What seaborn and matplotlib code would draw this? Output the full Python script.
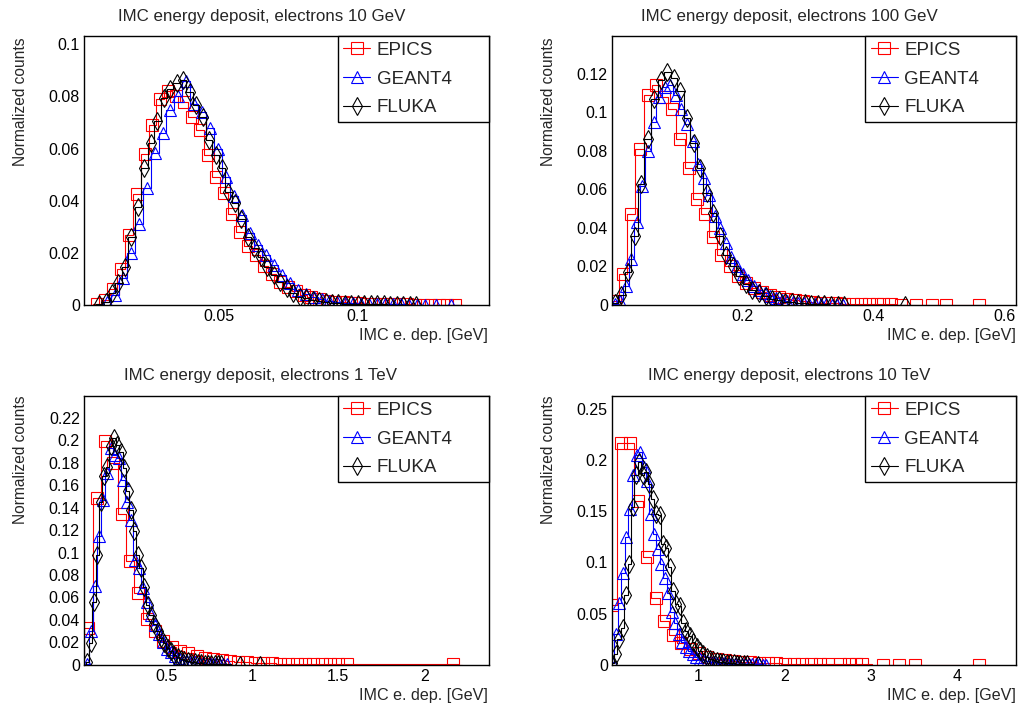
import numpy as np
import pandas as pd
import matplotlib
matplotlib.use("Agg")
import matplotlib.pyplot as plt
from matplotlib.lines import Line2D
from matplotlib.ticker import MultipleLocator, FuncFormatter
import seaborn as sns

# ---------------------------------------------------------------- data
models = ["EPICS", "GEANT4", "FLUKA"]
titles = ["IMC energy deposit, electrons 10 GeV",
          "IMC energy deposit, electrons 100 GeV",
          "IMC energy deposit, electrons 1 TeV",
          "IMC energy deposit, electrons 10 TeV"]
x_title = "IMC e. dep. [GeV]"
y_title = "Normalized counts"

# Panel 1 : 10 GeV   (bin start, bin width, contents, sparse tail bins)
p1_epics_bins = (0.0064, 0.00285)
p1_epics = [0.0003, 0.002, 0.006, 0.014, 0.027, 0.0425, 0.058, 0.069, 0.079, 0.082,
            0.080, 0.078, 0.072, 0.067, 0.0575, 0.049, 0.043, 0.035, 0.028, 0.0225,
            0.019, 0.015, 0.012, 0.009, 0.007, 0.0055, 0.004, 0.003, 0.0022, 0.0017,
            0.0013, 0.001, 0.0008, 0.0006, 0.0005, 0.0004, 0.0003, 0.0003, 0.0002, 0.0002,
            0.0001, 0.0001, 0.0001, 0.0001, 0.0001, 0.0001]
p1_epics_tail_x, p1_epics_tail_y = [], []
p1_geant_bins = (0.0100, 0.00285)
p1_geant = [0.001, 0.004, 0.0105, 0.020, 0.031, 0.045, 0.0585, 0.066, 0.075, 0.080,
            0.086, 0.077, 0.074, 0.068, 0.060, 0.049, 0.042, 0.0345, 0.0275, 0.023,
            0.019, 0.0153, 0.0115, 0.0083, 0.0058, 0.0042, 0.003, 0.0022, 0.0016, 0.0012,
            0.0009, 0.0007, 0.0005, 0.0004, 0.0003, 0.0003, 0.0002, 0.0002, 0.0001, 0.0001,
            0.0001]
p1_geant_tail_x, p1_geant_tail_y = [0.128, 0.1335], [0.0001, 0.0001]
p1_fluka_bins = (0.0072, 0.00232)
p1_fluka = [0.0003, 0.0013, 0.0046, 0.0084, 0.0147, 0.0262, 0.0377, 0.0524, 0.0623, 0.0707,
            0.0793, 0.0827, 0.085, 0.0863, 0.0818, 0.0767, 0.0722, 0.0633, 0.0575, 0.0524,
            0.0435, 0.039, 0.0329, 0.0262, 0.0217, 0.0185, 0.0147, 0.0115, 0.0089, 0.0064,
            0.0045, 0.0032, 0.0025, 0.0018, 0.0014, 0.001, 0.0008, 0.0006, 0.0005, 0.0004,
            0.0003, 0.0003, 0.0002, 0.0002, 0.0002, 0.0001, 0.0001, 0.0001, 0.0001, 0.0001]
p1_fluka_tail_x, p1_fluka_tail_y = [], []

# Panel 2 : 100 GeV
p2_epics_bins = (0.0055, 0.0125)
p2_epics = [0.002, 0.016, 0.047, 0.081, 0.109, 0.114, 0.108, 0.102, 0.086, 0.071,
            0.055, 0.047, 0.0355, 0.026, 0.020, 0.015, 0.0113, 0.0087, 0.007, 0.0052,
            0.004, 0.003, 0.0025, 0.002, 0.0015, 0.0012, 0.001, 0.0008, 0.0006]
p2_epics_tail_x = [0.369, 0.382, 0.394, 0.405, 0.415, 0.427, 0.443, 0.466, 0.489, 0.511, 0.562]
p2_epics_tail_y = [0.0005, 0.0004, 0.0004, 0.0003, 0.0003, 0.0003, 0.0002, 0.0002, 0.0002,
                   0.0001, 0.0001]
p2_geant_bins = (0.005, 0.0085)
p2_geant = [0.0005, 0.002, 0.010, 0.024, 0.043, 0.062, 0.080, 0.095, 0.108, 0.113,
            0.114, 0.109, 0.102, 0.094, 0.085, 0.073, 0.066, 0.057, 0.046, 0.040,
            0.032, 0.025, 0.020, 0.016, 0.013, 0.010, 0.008, 0.006, 0.0045, 0.0035,
            0.0027, 0.002, 0.0015, 0.0012, 0.0009, 0.0007, 0.0005, 0.0004, 0.0003, 0.0002,
            0.0002, 0.0001]
p2_geant_tail_x, p2_geant_tail_y = [], []
p2_fluka_bins = (0.0055, 0.010)
p2_fluka = [0.001, 0.005, 0.017, 0.036, 0.063, 0.086, 0.107, 0.117, 0.121, 0.118,
            0.111, 0.097, 0.084, 0.071, 0.058, 0.048, 0.036, 0.026, 0.020, 0.015,
            0.011, 0.008, 0.006, 0.0045, 0.0033, 0.0025, 0.0018, 0.0013, 0.001, 0.0008,
            0.0006, 0.0004, 0.0003, 0.0002, 0.0002, 0.0001]
p2_fluka_tail_x, p2_fluka_tail_y = [0.448], [0.0001]

# Panel 3 : 1 TeV
p3_epics_bins = (0.045, 0.0485)
p3_epics = [0.033, 0.149, 0.199, 0.180, 0.134, 0.092, 0.064, 0.041, 0.030, 0.021,
            0.016, 0.012, 0.010, 0.008, 0.006, 0.005, 0.004, 0.003, 0.0025, 0.002,
            0.0017, 0.0014, 0.0012, 0.001, 0.0008, 0.0007, 0.0006, 0.0005, 0.0004, 0.0003,
            0.0003, 0.0002]
p3_epics_tail_x, p3_epics_tail_y = [2.17], [0.0002]
p3_geant_bins = (0.038, 0.0232)
p3_geant = [0.001, 0.030, 0.070, 0.115, 0.147, 0.171, 0.193, 0.187, 0.184, 0.165,
            0.145, 0.129, 0.093, 0.086, 0.068, 0.056, 0.044, 0.035, 0.0275, 0.020,
            0.014, 0.011, 0.008, 0.006, 0.0045, 0.0035, 0.0027, 0.002, 0.0015, 0.0012,
            0.0009, 0.0007, 0.0005, 0.0004, 0.0003, 0.0002]
p3_geant_tail_x, p3_geant_tail_y = [], []
p3_fluka_bins = (0.0385, 0.0195)
p3_fluka = [0.002, 0.019, 0.056, 0.098, 0.145, 0.168, 0.176, 0.195, 0.202, 0.196,
            0.190, 0.175, 0.155, 0.138, 0.119, 0.098, 0.086, 0.069, 0.053, 0.044,
            0.036, 0.030, 0.024, 0.019, 0.015, 0.012, 0.009, 0.007, 0.0055, 0.0042,
            0.0033, 0.0026, 0.002, 0.0016, 0.0012, 0.001, 0.0008, 0.0006, 0.0005, 0.0004,
            0.0003]
p3_fluka_tail_x, p3_fluka_tail_y = [0.927, 1.044], [0.0001, 0.0001]

# Panel 4 : 10 TeV
p4_epics_bins = (0.01, 0.1)
p4_epics = [0.058, 0.217, 0.217, 0.160, 0.105, 0.065, 0.043, 0.029, 0.021, 0.015,
            0.011, 0.008, 0.006, 0.0045, 0.0035, 0.0028, 0.0022, 0.0018, 0.0015, 0.0012,
            0.001, 0.0008, 0.0006, 0.0005, 0.0004, 0.0003]
p4_epics_tail_x = [2.65, 2.75, 2.83, 2.9, 3.14, 3.33, 3.52, 4.26]
p4_epics_tail_y = [0.0002, 0.0002, 0.0002, 0.0002, 0.0001, 0.0001, 0.0001, 0.0001]
p4_geant_bins = (0.01, 0.0405)
p4_geant = [0.003, 0.030, 0.060, 0.090, 0.125, 0.152, 0.185, 0.205, 0.208, 0.193,
            0.180, 0.147, 0.128, 0.113, 0.098, 0.085, 0.070, 0.052, 0.041, 0.030,
            0.022, 0.017, 0.013, 0.010, 0.008, 0.006, 0.0047, 0.0037, 0.003, 0.0024,
            0.0019, 0.0015, 0.0012, 0.001, 0.0008, 0.0007, 0.0006, 0.0005, 0.0004, 0.0003,
            0.0003, 0.0002, 0.0002, 0.0001, 0.0001]
p4_geant_tail_x, p4_geant_tail_y = [], []
p4_fluka_bins = (0.01, 0.039)
p4_fluka = [0.002, 0.010, 0.025, 0.036, 0.068, 0.098, 0.154, 0.185, 0.198, 0.185,
            0.188, 0.177, 0.162, 0.147, 0.146, 0.118, 0.114, 0.096, 0.072, 0.059,
            0.057, 0.041, 0.033, 0.028, 0.022, 0.017, 0.013, 0.010, 0.008, 0.006,
            0.0048, 0.0038, 0.003, 0.0024, 0.0019, 0.0015, 0.0012, 0.001, 0.0008, 0.0006,
            0.0005]
p4_fluka_tail_x, p4_fluka_tail_y = [1.70], [0.0001]

panels_data = [
    [(p1_epics_bins, p1_epics, p1_epics_tail_x, p1_epics_tail_y),
     (p1_geant_bins, p1_geant, p1_geant_tail_x, p1_geant_tail_y),
     (p1_fluka_bins, p1_fluka, p1_fluka_tail_x, p1_fluka_tail_y)],
    [(p2_epics_bins, p2_epics, p2_epics_tail_x, p2_epics_tail_y),
     (p2_geant_bins, p2_geant, p2_geant_tail_x, p2_geant_tail_y),
     (p2_fluka_bins, p2_fluka, p2_fluka_tail_x, p2_fluka_tail_y)],
    [(p3_epics_bins, p3_epics, p3_epics_tail_x, p3_epics_tail_y),
     (p3_geant_bins, p3_geant, p3_geant_tail_x, p3_geant_tail_y),
     (p3_fluka_bins, p3_fluka, p3_fluka_tail_x, p3_fluka_tail_y)],
    [(p4_epics_bins, p4_epics, p4_epics_tail_x, p4_epics_tail_y),
     (p4_geant_bins, p4_geant, p4_geant_tail_x, p4_geant_tail_y),
     (p4_fluka_bins, p4_fluka, p4_fluka_tail_x, p4_fluka_tail_y)],
]

# ---------------------------------------------------------------- style
sns.set_style("white")
plt.rcParams["font.family"] = ["Liberation Sans", "DejaVu Sans"]
plt.rcParams["axes.linewidth"] = 1.0

colors = ["#ff0000", "#0000ff", "#000000"]
markers = ["s", "^", "d"]
msizes = [8.3, 9.0, 8.8]

W, H = 1026, 709
fig = plt.figure(figsize=(W / 100, H / 100), dpi=100)

# axes frames in pixels: left, right, top, bottom
frames = [(84, 489, 36, 305), (612, 1016, 36, 305),
          (84, 489, 396, 664.7), (612, 1016, 396, 664.7)]
xlims = [(0.0018, 0.147), (0.001, 0.618), (0.019, 2.377), (0.005, 4.687)]
ylims = [(0, 0.1032), (0, 0.1397), (0, 0.2395), (0, 0.2627)]
xmaj = [0.05, 0.2, 0.5, 1.0]
xmin = [0.01, 0.05, 0.1, 0.2]
ymaj = [0.02, 0.02, 0.02, 0.05]
ymin = [0.005, 0.005, 0.005, 0.01]
title_pos = [(262, 20.7), (789, 20.7), (260, 380), (789, 380)]
ylab_pos = [(20.5, 37), (548.5, 37), (20.5, 396), (548.5, 396)]
xlab_pos = [(488, 340), (1016, 340), (488, 699.7), (1016, 699.7)]

fmt = FuncFormatter(lambda v, p: f"{round(v, 6):g}")

for i in range(4):
    l, r, t, b = frames[i]
    ax = fig.add_axes([l / W, 1 - b / H, (r - l) / W, (b - t) / H])
    for j, (bins, vals, tx, ty) in enumerate(panels_data[i]):
        start, width = bins
        xs = list(start + width * np.arange(len(vals))) + list(tx)
        ys = list(vals) + list(ty)
        pts = pd.DataFrame({"x": xs, "y": ys})
        line = pd.DataFrame({"x": [xs[0] - width] + xs + [xs[-1] + width],
                             "y": [0.0] + ys + [0.0]})
        sns.lineplot(data=line, x="x", y="y", ax=ax, color=colors[j], lw=0.8,
                     drawstyle="steps-mid", errorbar=None, legend=False, sort=False)
        sns.lineplot(data=pts, x="x", y="y", ax=ax, color=colors[j], linestyle="none",
                     marker=markers[j], markersize=msizes[j], markerfacecolor="none",
                     markeredgecolor=colors[j], markeredgewidth=0.8,
                     errorbar=None, legend=False, sort=False)

    ax.set_xlim(*xlims[i])
    ax.set_ylim(*ylims[i])
    ax.set_xlabel("")
    ax.set_ylabel("")
    ax.xaxis.set_major_locator(MultipleLocator(xmaj[i]))
    ax.xaxis.set_minor_locator(MultipleLocator(xmin[i]))
    ax.yaxis.set_major_locator(MultipleLocator(ymaj[i]))
    ax.yaxis.set_minor_locator(MultipleLocator(ymin[i]))
    ax.xaxis.set_major_formatter(fmt)
    ax.yaxis.set_major_formatter(fmt)
    ax.tick_params(which="both", direction="in", top=False, right=False,
                   labelsize=11.5, pad=3, color="black", labelcolor="black")
    ax.tick_params(which="major", length=8.5, width=0.8)
    ax.tick_params(which="minor", length=4.3, width=0.8)
    for s in ax.spines.values():
        s.set_color("black")
        s.set_linewidth(1.0)

    handles = [Line2D([], [], color=colors[j], lw=0.8, marker=markers[j],
                      markersize=msizes[j], markerfacecolor="none",
                      markeredgecolor=colors[j], markeredgewidth=0.8)
               for j in range(3)]
    leg = ax.legend(handles, models, loc="upper left",
                    bbox_to_anchor=(0.626, 0.0, 0.374, 1.0), mode="expand",
                    borderaxespad=0, frameon=True, fancybox=False,
                    edgecolor="black", framealpha=1, fontsize=13.5,
                    handlelength=1.45, handletextpad=0.35, borderpad=0.3,
                    labelspacing=0.62)
    leg.get_frame().set_linewidth(1.0)

    tx_, ty_ = title_pos[i]
    fig.text(tx_ / W, 1 - ty_ / H, titles[i], ha="center", va="baseline", fontsize=12.2)
    yx, yy = ylab_pos[i]
    fig.text(yx / W, 1 - yy / H, y_title, rotation=90, ha="center", va="top", fontsize=11.2)
    xx, xy = xlab_pos[i]
    fig.text(xx / W, 1 - xy / H, x_title, ha="right", va="baseline", fontsize=11.6)

fig.savefig("out.png", dpi=100, facecolor="white")
